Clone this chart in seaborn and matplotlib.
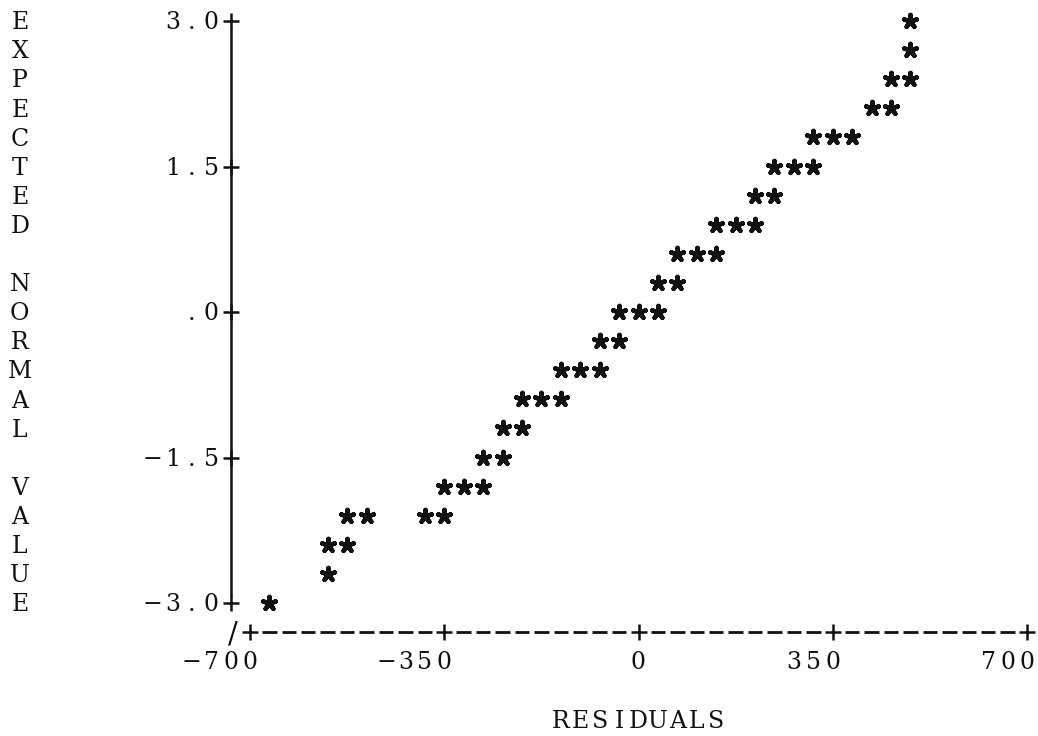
import matplotlib
matplotlib.use('Agg')
import matplotlib.pyplot as plt
import seaborn as sns

# normal probability plot of residuals, typewriter style
residuals = [-665, -560, -560, -525, -525, -490, -385, -350, -350, -315,
             -280, -280, -245, -245, -210, -210, -175, -140, -140, -105,
             -70, -70, -35, -35, 0, 35, 35, 70, 70, 105,
             140, 140, 175, 210, 210, 245, 245, 280, 315, 315,
             350, 385, 420, 455, 455, 490, 490, 490]
expected_normal = [-3.0, -2.7, -2.4, -2.4, -2.1, -2.1, -2.1, -2.1, -1.8, -1.8,
                   -1.8, -1.5, -1.5, -1.2, -1.2, -0.9, -0.9, -0.9, -0.6, -0.6,
                   -0.6, -0.3, -0.3, 0.0, 0.0, 0.0, 0.3, 0.3, 0.6, 0.6,
                   0.6, 0.9, 0.9, 0.9, 1.2, 1.2, 1.5, 1.5, 1.5, 1.8,
                   1.8, 1.8, 2.1, 2.1, 2.4, 2.4, 2.7, 3.0]

y_ticks = [3.0, 1.5, 0.0, -1.5, -3.0]
y_labels = ['3.0', '1.5', '.0', '-1.5', '-3.0']
x_ticks = [-700, -350, 0, 350, 700]
x_labels = ['-700', '-350', '0', '350', '700']
y_title = 'EXPECTED NORMAL VALUE'
x_title = 'RESIDUALS'

sns.set_theme(style='white')
plt.rcParams['font.family'] = ['DejaVu Serif']

COL = 35.0    # one typewriter column, in residual units
ROW = 0.3     # one printed line, in normal-value units
BASE = 0.085  # baseline sits a little under the line centre
ink = '#111111'
txt = dict(fontsize=17, color=ink, ha='center', va='baseline', clip_on=False)

fig = plt.figure(figsize=(10.38, 7.36), dpi=100)
fig.patch.set_facecolor('white')
ax = fig.add_axes([250 / 1038, 1 - 603 / 736, 777 / 1038, 582 / 736])
ax.set_xlim(-700, 700)
ax.set_ylim(-3, 3)
ax.axis('off')


def type_right(x_last, y, s):
    # put each character on the typewriter grid, last one at x_last
    for i, ch in enumerate(reversed(s)):
        if ch == ' ':
            continue
        ch = '\u2212' if ch == '-' else ch
        ax.text(x_last - i * COL, y - BASE, ch, **txt)


axis_x = -700 - COL
axis_y = -3 - ROW

# vertical axis with + ticks
ax.vlines(axis_x, -2.93, 2.93, color=ink, lw=1.8, clip_on=False)
ax.plot([axis_x] * len(y_ticks), y_ticks, ls='none', marker='+', ms=11,
        mew=1.8, color=ink, clip_on=False)
for v, lab in zip(y_ticks, y_labels):
    type_right(axis_x - COL, v, lab)

# horizontal axis drawn as /+----------+ ...
n_cols = int(round((x_ticks[-1] - x_ticks[0]) / COL))
for c in range(n_cols + 1):
    x = x_ticks[0] + c * COL
    if c % 10 == 0:
        continue
    ax.hlines(axis_y, x - 13, x + 13, color=ink, lw=2.0, clip_on=False)
ax.plot(x_ticks, [axis_y] * len(x_ticks), ls='none', marker='+', ms=11,
        mew=1.8, color=ink, clip_on=False)
ax.text(axis_x + 5, axis_y - 0.11, '/', fontsize=21, color=ink, ha='center',
        va='baseline', clip_on=False)
for v, lab in zip(x_ticks, x_labels):
    type_right(v, axis_y - ROW, lab)

# axis titles
for i, ch in enumerate(y_title):
    if ch != ' ':
        ax.text(-700 - 11.85 * COL, 3.0 - i * ROW - BASE, ch, **txt)
type_right(24 * COL - 700, axis_y - 3 * ROW, x_title)

# the points, as typewriter asterisks
sns.scatterplot(x=residuals, y=expected_normal, marker=(5, 2, 0), s=90,
                color=ink, linewidth=3.2, ax=ax, clip_on=False, legend=False)
ax.collections[-1].set_capstyle('round')

fig.savefig('out.png', dpi=100, facecolor='white')
